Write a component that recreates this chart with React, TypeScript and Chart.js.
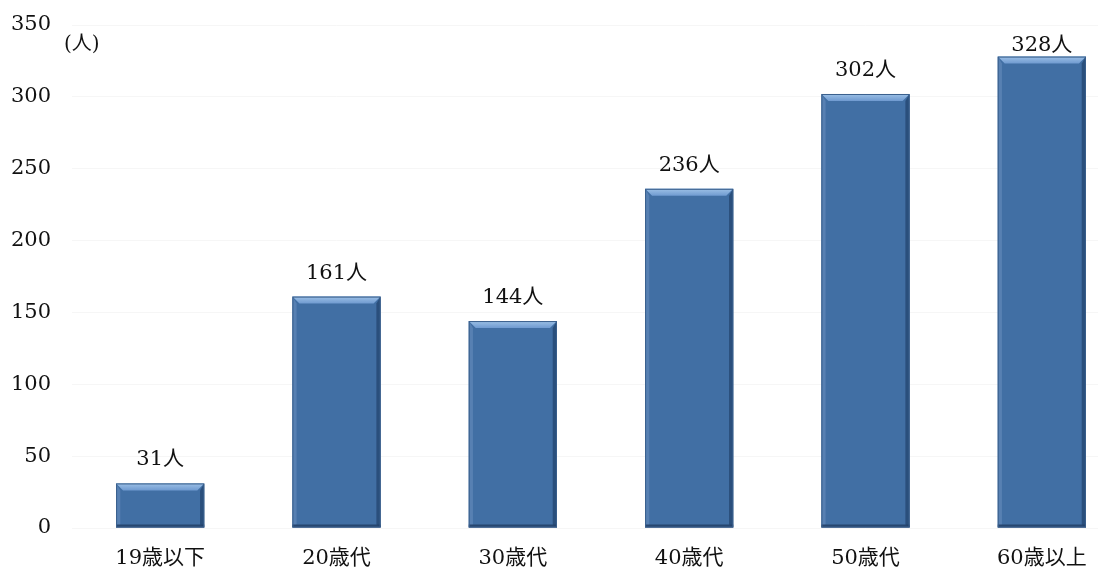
import React, { useEffect, useRef } from "react";
import { Chart, registerables } from "chart.js";

Chart.register(...registerables);

const categories = ["19歳以下", "20歳代", "30歳代", "40歳代", "50歳代", "60歳以上"];
const values = [31, 161, 144, 236, 302, 328];
const valueLabels = ["31人", "161人", "144人", "236人", "302人", "328人"];
const unitLabel = "(人)";
const yMax = 350;
const yStep = 50;

const FONT = '"DejaVu Serif", "Noto Sans CJK JP", serif';

const bevelPlugin = {
  id: "bevel",
  afterDatasetsDraw(chart: any) {
    const ctx = chart.ctx;
    const area = chart.chartArea;
    const meta = chart.getDatasetMeta(0);
    meta.data.forEach((bar: any, i: number) => {
      const { x, y, base, width } = bar.getProps(["x", "y", "base", "width"], true);
      const l = x - width / 2;
      const r = x + width / 2;
      const t = y;
      const b = base;
      const s = 7;
      ctx.save();
      const g = ctx.createLinearGradient(0, t, 0, t + s);
      g.addColorStop(0, "#9cc0e6");
      g.addColorStop(1, "#6f9ad0");
      ctx.fillStyle = g;
      ctx.beginPath();
      ctx.moveTo(l, t);
      ctx.lineTo(r, t);
      ctx.lineTo(r - s, t + s);
      ctx.lineTo(l + s, t + s);
      ctx.closePath();
      ctx.fill();
      ctx.fillStyle = "rgba(90,130,180,0.9)";
      ctx.beginPath();
      ctx.moveTo(l, t);
      ctx.lineTo(l + s * 0.6, t + s);
      ctx.lineTo(l + s * 0.6, b - 3);
      ctx.lineTo(l, b);
      ctx.closePath();
      ctx.fill();
      ctx.fillStyle = "rgba(40,75,120,0.9)";
      ctx.beginPath();
      ctx.moveTo(r, t);
      ctx.lineTo(r - s * 0.6, t + s);
      ctx.lineTo(r - s * 0.6, b - 3);
      ctx.lineTo(r, b);
      ctx.closePath();
      ctx.fill();
      ctx.fillStyle = "rgba(35,65,105,0.9)";
      ctx.fillRect(l, b - 3, width, 3);
      ctx.strokeStyle = "#3a5f8c";
      ctx.lineWidth = 1;
      ctx.strokeRect(l + 0.5, t + 0.5, width - 1, b - t - 1);
      ctx.fillStyle = "#111";
      ctx.font = "21px " + FONT;
      ctx.textAlign = "center";
      ctx.textBaseline = "alphabetic";
      const by = Math.max(t - 18, area.top + 26);
      ctx.fillText(valueLabels[i], x, by);
      ctx.restore();
    });
    ctx.save();
    ctx.fillStyle = "#111";
    ctx.font = "20px " + FONT;
    ctx.textAlign = "left";
    ctx.textBaseline = "middle";
    ctx.fillText(unitLabel, 64, area.top + 20);
    ctx.restore();
  },
};

export default function App() {
  const ref = useRef<HTMLCanvasElement | null>(null);
  useEffect(() => {
    if (!ref.current) return;
    const chart = new Chart(ref.current, {
      type: "bar",
      data: {
        labels: categories,
        datasets: [
          {
            data: values,
            backgroundColor: "#416fa4",
            borderWidth: 0,
            barPercentage: 0.5,
            categoryPercentage: 1,
          },
        ],
      },
      options: {
        animation: false,
        responsive: false,
        maintainAspectRatio: false,
        layout: { padding: { left: 10, top: 25, right: 0, bottom: 0 } },
        plugins: { legend: { display: false }, tooltip: { enabled: false } },
        scales: {
          x: {
            grid: { display: false, drawTicks: false },
            border: { display: false },
            ticks: { color: "#111", font: { family: FONT, size: 21 }, padding: 18, maxRotation: 0 },
            afterFit(scale: any) {
              scale.height = 50;
            },
          },
          y: {
            min: 0,
            max: yMax,
            grid: { color: "rgba(0,0,0,0.035)", drawTicks: false },
            border: { display: false },
            ticks: {
              stepSize: yStep,
              color: "#111",
              font: { family: FONT, size: 21 },
              padding: 21,
            },
            afterFit(scale: any) {
              scale.width = 62;
              scale.paddingTop = 0;
              scale.paddingBottom = 0;
            },
          },
        },
      },
      plugins: [bevelPlugin],
    });
    return () => chart.destroy();
  }, []);
  return (
    <div style={{ position: "fixed", left: 0, top: 0, width: 1098, height: 578, overflow: "hidden", background: "#fff" }}>
      <canvas ref={ref} width={1130} height={578} style={{ width: 1130, height: 578, display: "block" }} />
    </div>
  );
}
